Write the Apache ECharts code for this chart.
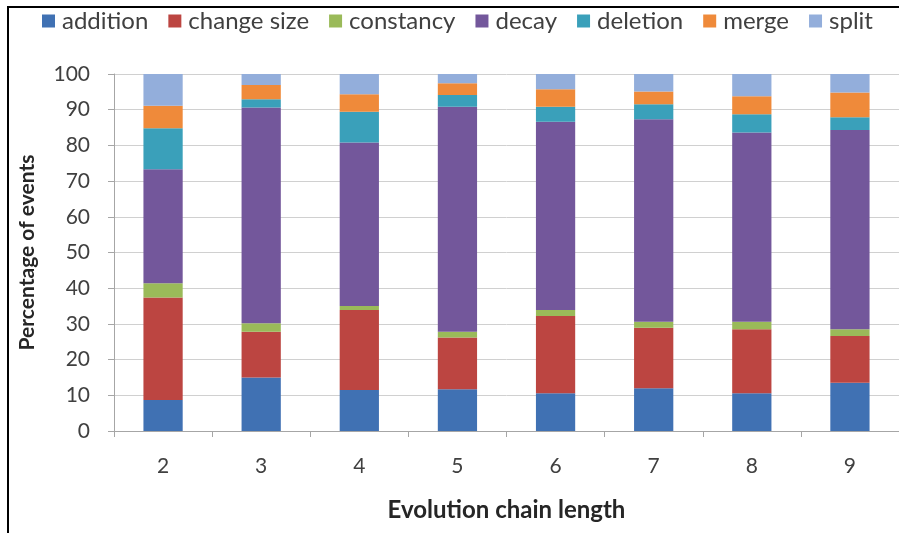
<!DOCTYPE html>
<html><head><meta charset="utf-8">
<script src="https://cdn.jsdelivr.net/npm/echarts@6/dist/echarts.min.js"></script>
<style>html,body{margin:0;padding:0;background:#fff}#c{width:899px;height:533px}</style>
</head><body><div id="c"></div>
<script>
const categories = ['2','3','4','5','6','7','8','9'];
const addition   = [8.7, 15.0, 11.5, 11.7, 10.6, 12.0, 10.6, 13.5];
const changeSize = [28.7, 12.8, 22.4, 14.5, 21.6, 16.9, 17.9, 13.1];
const constancy  = [4.0, 2.4, 1.1, 1.6, 1.7, 1.7, 2.1, 1.9];
const decay      = [31.9, 60.4, 45.8, 63.0, 52.7, 56.7, 53.0, 55.8];
const deletion   = [11.5, 2.3, 8.6, 3.3, 4.2, 4.2, 5.1, 3.6];
const merge      = [6.3, 4.0, 4.9, 3.3, 4.9, 3.6, 5.1, 6.9];
const split      = [8.9, 3.1, 5.7, 2.6, 4.3, 4.9, 6.2, 5.2];
const seriesNames = ['addition','change size','constancy','decay','deletion','merge','split'];
const seriesData = [addition, changeSize, constancy, decay, deletion, merge, split];
const colors = ['#4071b3','#bc4541','#9aba59','#73579b','#3aa0ba','#ef8a3a','#93aedb'];

const FONT = 'Lato';
const chart = echarts.init(document.getElementById('c'));
chart.setOption({
  animation: false,
  color: colors,
  textStyle: {fontFamily: FONT},
  graphic: [{
    type: 'rect', shape: {x: 8, y: 7, width: 1000, height: 1000},
    style: {fill: 'none', stroke: '#000', lineWidth: 2}, silent: true
  }],
  legend: {
    left: 37, top: 4, itemWidth: 13, itemHeight: 13, itemGap: 20, icon: 'rect',
    textStyle: {fontFamily: FONT, fontSize: 24, color: '#404040', padding: [0,0,0,2]},
    data: seriesNames
  },
  grid: {left: 114, top: 74, width: 792, height: 357},
  xAxis: {
    type: 'category', data: categories,
    name: 'Evolution chain length', nameLocation: 'middle', nameGap: 67,
    nameTextStyle: {fontFamily: FONT, fontSize: 24, fontWeight: 'bold', color: '#262626'},
    axisLine: {lineStyle: {color: '#a6a6a6', width: 1}},
    axisTick: {show: true, length: 6, lineStyle: {color: '#a6a6a6'}},
    axisLabel: {fontFamily: FONT, fontSize: 21, color: '#404040', margin: 25}
  },
  yAxis: {
    type: 'value', min: 0, max: 100, interval: 10,
    name: 'Percentage of events', nameLocation: 'middle', nameGap: 76, nameRotate: 90,
    nameTextStyle: {fontFamily: FONT, fontSize: 21, fontWeight: 'bold', color: '#262626'},
    axisLine: {show: true, lineStyle: {color: '#a6a6a6', width: 1}},
    axisTick: {show: true, length: 6, lineStyle: {color: '#a6a6a6'}},
    splitLine: {lineStyle: {color: '#d0d0d0', width: 1}},
    axisLabel: {fontFamily: FONT, fontSize: 21, color: '#404040', margin: 24}
  },
  series: seriesNames.map((n, i) => ({
    name: n, type: 'bar', stack: 'total', data: seriesData[i], barWidth: '40%'
  }))
});
</script></body></html>
